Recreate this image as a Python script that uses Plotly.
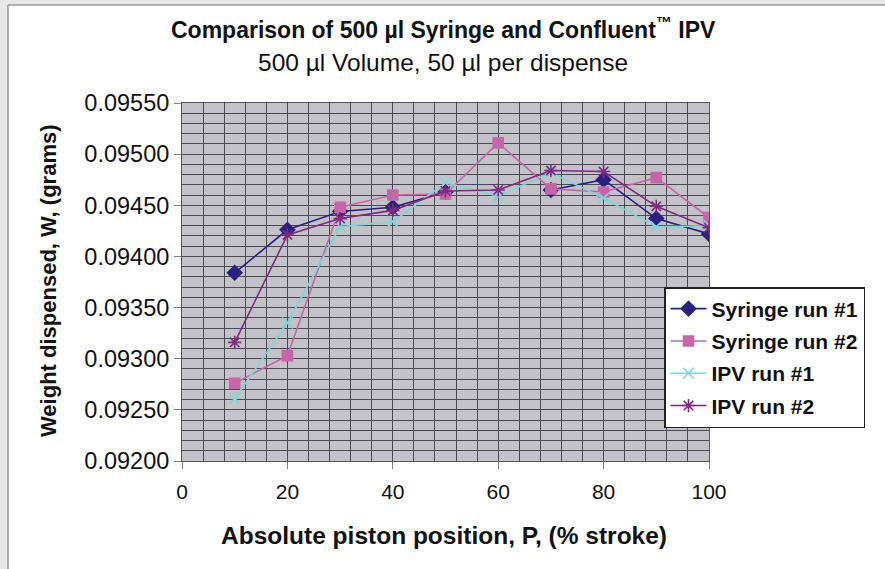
import plotly.graph_objects as go

positions = [10, 20, 30, 40, 50, 60, 70, 80, 90, 100]
syringe_run1 = [0.09384, 0.09426, 0.09444, 0.09448, 0.09463, None, 0.09465, 0.09475, 0.09437, 0.09422]
syringe_run2 = [0.09276, 0.09303, 0.09448, 0.09460, 0.09461, 0.09511, 0.09466, 0.09463, 0.09477, 0.09438]
ipv_run1 = [0.09261, 0.09335, 0.09429, 0.09434, 0.09472, 0.09459, 0.09482, 0.09457, 0.09429, 0.09430]
ipv_run2 = [0.09316, 0.09421, 0.09437, 0.09445, 0.09464, 0.09465, 0.09484, 0.09483, 0.09449, 0.09428]

series = [
    ("Syringe run #1", syringe_run1, "#2b2080", "diamond", 11),
    ("Syringe run #2", syringe_run2, "#c865a8", "square", 10),
    ("IPV run #1", ipv_run1, "#7fd6d6", "x-thin-open", 11),
    ("IPV run #2", ipv_run2, "#7f2a80", "asterisk-open", 11),
]

fig = go.Figure()
for i, (name, vals, color, sym, size) in enumerate(series):
    fig.add_trace(go.Scatter(
        x=positions, y=vals, name=name, mode="lines+markers",
        legendgroup=f"g{i}",
        connectgaps=False,
        line=dict(color=color, width=1.6),
        marker=dict(symbol=sym, size=size, color=color,
                    line=dict(color=color, width=1.6)),
    ))

font = "Liberation Sans, Arial, sans-serif"
W, H = 885, 569
pl, pr, pt, pb = 182, 709, 103, 461
pw, ph = pr - pl, pb - pt
def px(xp): return (xp - pl) / pw
def py(yp): return (pb - yp) / ph

fig.update_layout(
    width=W, height=H,
    margin=dict(l=pl, r=W - pr, t=pt, b=H - pb, autoexpand=False),
    paper_bgcolor="white",
    plot_bgcolor="#c2c2c8",
    font=dict(family=font, color="#111111"),
    showlegend=True,
    legend=dict(
        x=px(664), y=py(287), xanchor="left", yanchor="top",
        xref="paper", yref="paper",
        bgcolor="white", bordercolor="#222222", borderwidth=1.5,
        font=dict(size=21, family=font, color="#111111", weight="bold"),
        tracegroupgap=2, itemwidth=36,
    ),
    xaxis=dict(
        range=[0, 100], dtick=20, tick0=0,
        showgrid=True, gridcolor="#4a4a52", gridwidth=1,
        minor=dict(dtick=4, showgrid=True, gridcolor="#4a4a52", gridwidth=1),
        ticks="outside", ticklen=7, tickcolor="#808080",
        ticklabelstandoff=5,
        tickfont=dict(size=21, family=font, color="#111111"),
        showline=True, linecolor="#555555", linewidth=1, mirror=True,
        zeroline=False,
    ),
    yaxis=dict(
        range=[0.0920, 0.0955], dtick=0.0005, tick0=0.0920,
        tickformat=".5f",
        showgrid=True, gridcolor="#4a4a52", gridwidth=1,
        minor=dict(dtick=0.0001, showgrid=True, gridcolor="#4a4a52", gridwidth=1),
        ticks="outside", ticklen=7, tickcolor="#808080",
        tickfont=dict(size=23.5, family=font, color="#111111"),
        showline=True, linecolor="#555555", linewidth=1, mirror=True,
        zeroline=False,
    ),
    annotations=[
        dict(text="<b>Comparison of 500 µl Syringe and Confluent<sup>™</sup> IPV</b>",
             x=px(443), y=py(28), xref="paper", yref="paper", showarrow=False,
             xanchor="center", yanchor="middle",
             font=dict(size=23, family=font, color="#111111")),
        dict(text="500 µl Volume, 50 µl per dispense",
             x=px(443), y=py(62), xref="paper", yref="paper", showarrow=False,
             xanchor="center", yanchor="middle",
             font=dict(size=24.5, family=font, color="#111111")),
        dict(text="<b>Absolute piston position, P, (% stroke)</b>",
             x=px(444), y=py(535), xref="paper", yref="paper", showarrow=False,
             xanchor="center", yanchor="middle",
             font=dict(size=24.5, family=font, color="#111111")),
        dict(text="<b>Weight dispensed, W, (grams)</b>",
             x=px(48), y=py(281), xref="paper", yref="paper", showarrow=False,
             xanchor="center", yanchor="middle", textangle=-90,
             font=dict(size=22, family=font, color="#111111")),
    ],
)

# light gray frame at top-left edges
fig.add_shape(type="rect", xref="paper", yref="paper", x0=px(0), x1=px(8), y0=py(569), y1=py(0),
              fillcolor="#e8e8e8", line=dict(width=0), layer="below")
fig.add_shape(type="rect", xref="paper", yref="paper", x0=px(0), x1=px(885), y0=py(5), y1=py(0),
              fillcolor="#e8e8e8", line=dict(width=0), layer="below")
fig.add_shape(type="line", xref="paper", yref="paper", x0=px(8), x1=px(8), y0=py(569), y1=py(5),
              line=dict(color="#999999", width=1.5))
fig.add_shape(type="line", xref="paper", yref="paper", x0=px(8), x1=px(885), y0=py(5), y1=py(5),
              line=dict(color="#999999", width=1.5))

fig.write_html("out.html",
               config={"displayModeBar": False},
               post_script="document.body.style.margin='0';document.body.style.overflow='hidden';")
